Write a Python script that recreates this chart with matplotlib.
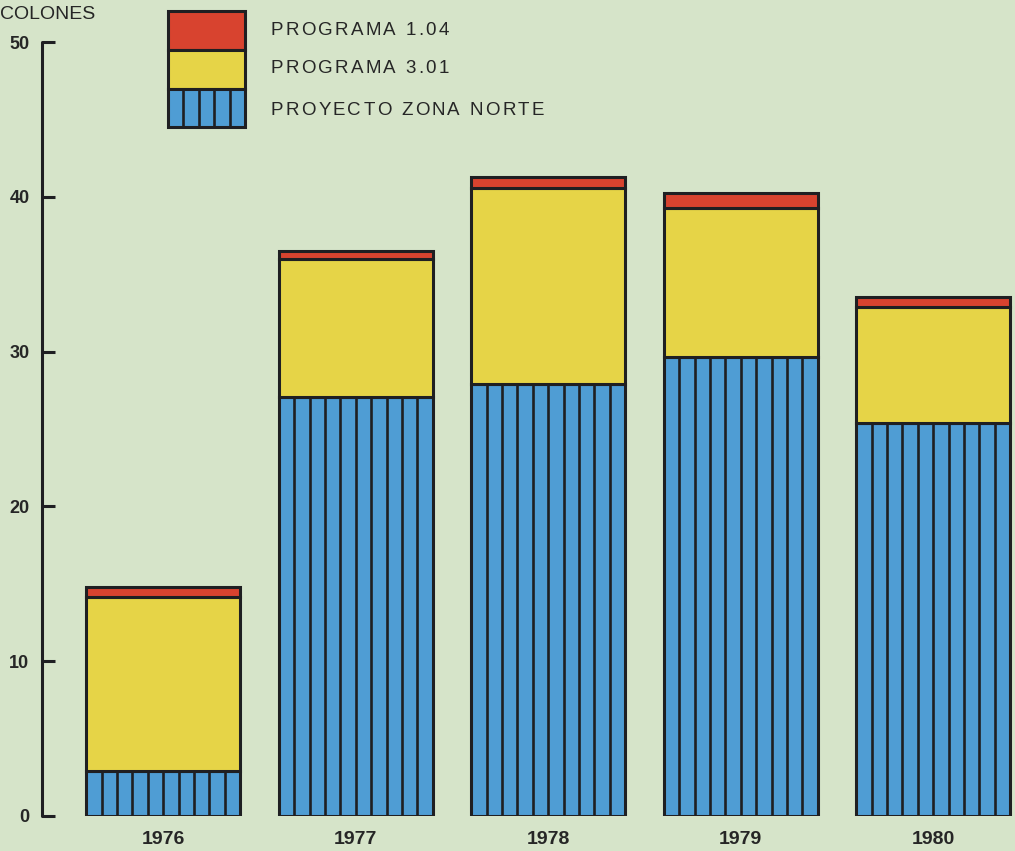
import matplotlib
matplotlib.use("Agg")
import matplotlib.pyplot as plt
from matplotlib.patches import Rectangle
import numpy as np

# ---- data ----
years = ["1976", "1977", "1978", "1979", "1980"]
zona_norte = [2.9, 27.05, 27.9, 29.65, 25.4]
prog_301 = [11.25, 8.95, 12.7, 9.65, 7.5]
prog_104 = [0.65, 0.5, 0.7, 0.95, 0.6]
legend_labels = ["PROGRAMA 1.04", "PROGRAMA 3.01", "PROYECTO ZONA NORTE"]
y_ticks = [0, 10, 20, 30, 40, 50]
y_unit = "COLONES"

# ---- style ----
W, H = 1015, 851
BG = "#d6e4c9"
BLUE = "#4f9dd4"
YELLOW = "#e6d447"
RED = "#d8432f"
DARK = "#1f1f22"
TXT = "#262626"
FONT = "Liberation Sans"

fig = plt.figure(figsize=(W / 100, H / 100), dpi=100)
fig.patch.set_facecolor(BG)
ax = fig.add_axes([42 / W, 35 / H, (W - 42) / W, (816 - 42) / H])
ax.set_facecolor(BG)
ax.patch.set_alpha(0)

x = np.arange(len(years))
bw = 0.8
ax.bar(x, zona_norte, width=bw, color=BLUE, edgecolor=DARK, linewidth=2.2, zorder=3)
bottom2 = np.array(zona_norte)
ax.bar(x, prog_301, width=bw, bottom=bottom2, color=YELLOW, edgecolor=DARK, linewidth=2.2, zorder=3)
bottom3 = bottom2 + np.array(prog_301)
ax.bar(x, prog_104, width=bw, bottom=bottom3, color=RED, edgecolor=DARK, linewidth=2.2, zorder=3)

# vertical stripes in blue segments
n_str = 10
for xi, h in zip(x, zona_norte):
    xs = xi - bw / 2 + np.arange(1, n_str) * bw / n_str
    ax.vlines(xs, 0, h, colors=DARK, linewidth=1.9, zorder=4)

ax.set_xlim(-0.63, 4.425)
ax.set_ylim(0, 50)
for s in ["top", "right", "bottom"]:
    ax.spines[s].set_visible(False)
ax.spines["left"].set_linewidth(2.2)
ax.spines["left"].set_color(DARK)
ax.spines["left"].set_capstyle("round")

ax.set_yticks(y_ticks)
ax.set_yticklabels([str(v) for v in y_ticks], fontsize=13, fontweight="bold",
                   family=FONT, color=TXT)
ax.tick_params(axis="y", direction="in", length=9, width=2.2, color=DARK, pad=9)
ax.set_xticks(x)
ax.set_xticklabels(years, fontsize=14, fontweight="bold", family=FONT, color=TXT)
ax.tick_params(axis="x", length=0, pad=11)

# ---- unit label ----
fig.text(0 / W, 1 - 19 / H, y_unit, fontsize=14, family=FONT, color=TXT,
         va="baseline", ha="left")

# ---- legend (drawn manually) ----
lx0, lx1 = 168, 245
rows = [(11, 50, RED), (50, 89, YELLOW), (89, 127, BLUE)]
for y0, y1, c in rows:
    fig.add_artist(Rectangle((lx0 / W, 1 - y1 / H), (lx1 - lx0) / W, (y1 - y0) / H,
                             transform=fig.transFigure, facecolor=c, edgecolor=DARK,
                             linewidth=2.2, zorder=5))
for k in range(1, 5):
    xs = lx0 + k * (lx1 - lx0) / 5
    fig.add_artist(plt.Line2D([xs / W, xs / W], [1 - 127 / H, 1 - 89 / H],
                              transform=fig.transFigure, color=DARK, linewidth=1.9, zorder=6))

renderer = fig.canvas.get_renderer()


def tracked(x_px, y_px, s, size, track_px):
    cur = x_px
    for ch in s:
        t = fig.text(cur / W, 1 - y_px / H, ch, fontsize=size, family=FONT,
                     va="baseline", ha="left", color=TXT)
        if ch == " ":
            w = size * 100 / 72 * 0.30
        else:
            w = t.get_window_extent(renderer).width
        cur += w + track_px


for lab, base in zip(legend_labels, [35, 73, 115]):
    tracked(271, base, lab, 13.5, 2.2)

fig.savefig("out.png", dpi=100, facecolor=BG)
